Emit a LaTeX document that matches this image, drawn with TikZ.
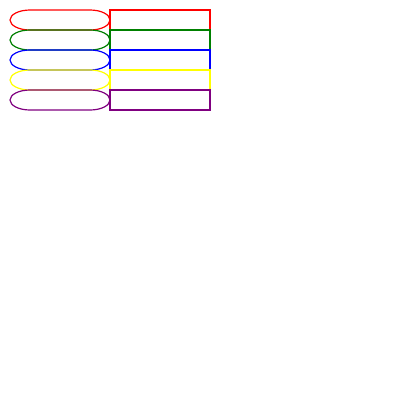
\documentclass[tikz,border=0pt]{standalone}
\definecolor{dgreen}{RGB}{0,128,0}
\definecolor{dpurple}{RGB}{128,0,128}
\definecolor{yel}{RGB}{255,255,0}
\begin{document}
\begin{tikzpicture}[x=1pt,y=1pt,
  stad/.style={minimum width=100pt, minimum height=20pt, inner sep=0pt, outer sep=0pt},
  stadline/.style={line width=1.2pt},
  box/.style={draw, line width=1.2pt, minimum width=100pt, minimum height=20pt, inner sep=0pt, outer sep=0pt}]
\fill[white] (0,0) rectangle (400,-400);
\useasboundingbox (0,0) rectangle (400,-400);
\foreach \i/\c in {1/red,2/dgreen,3/blue,4/yel,5/dpurple}{
  \node[stad] (s\i) at (60,-20*\i) {};
  \draw[stadline, draw=\c] ([xshift=20pt]s\i.north west) -- ([xshift=-20pt]s\i.north east)
    arc[start angle=90, end angle=-90, x radius=20, y radius=10]
    -- ([xshift=20pt]s\i.south west)
    arc[start angle=270, end angle=90, x radius=20, y radius=10] -- cycle;
  \node[box, draw=\c] (b\i) at (160,-20*\i) {};
}
\end{tikzpicture}
\end{document}
